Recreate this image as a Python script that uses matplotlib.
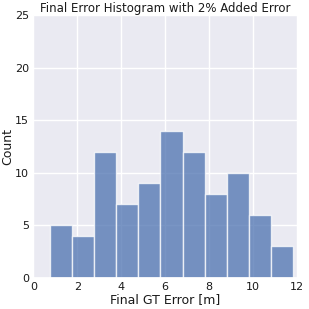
import matplotlib
matplotlib.use("Agg")
import matplotlib.pyplot as plt
import seaborn as sns
import numpy as np

# Histogram bins (final GT error in meters) and counts
bin_edges = [0.75, 1.76, 2.77, 3.77, 4.78, 5.79, 6.80, 7.81, 8.81, 9.82, 10.83, 11.84]
counts = [5, 4, 12, 7, 9, 14, 12, 8, 10, 6, 3]

sns.set_theme(style="darkgrid")
plt.rcParams["font.family"] = ["DejaVu Sans"]

fig = plt.figure(figsize=(3.09, 3.09), dpi=100)
ax = fig.add_axes([0.108, 0.101, 0.856, 0.850])

edges = np.array(bin_edges)
centers = (edges[:-1] + edges[1:]) / 2
ax.hist(centers, bins=edges, weights=counts, color="#4c72b0", alpha=0.75,
        edgecolor="white", linewidth=1)

ax.set_xlim(0, 12.05)
ax.set_ylim(0, 25)
ax.set_xticks([0, 2, 4, 6, 8, 10, 12])
ax.set_yticks([0, 5, 10, 15, 20, 25])
ax.tick_params(length=0, labelsize=8, pad=3, labelcolor="#1a1a1a")
ax.set_xlabel("Final GT Error [m]", fontsize=9, labelpad=1, color="#1a1a1a")
ax.set_ylabel("Count", fontsize=9, labelpad=0.5, color="#1a1a1a")
ax.set_title("Final Error Histogram with 2% Added Error", fontsize=8.5, pad=2,
             color="#1a1a1a")

fig.savefig("out.png", dpi=100)
